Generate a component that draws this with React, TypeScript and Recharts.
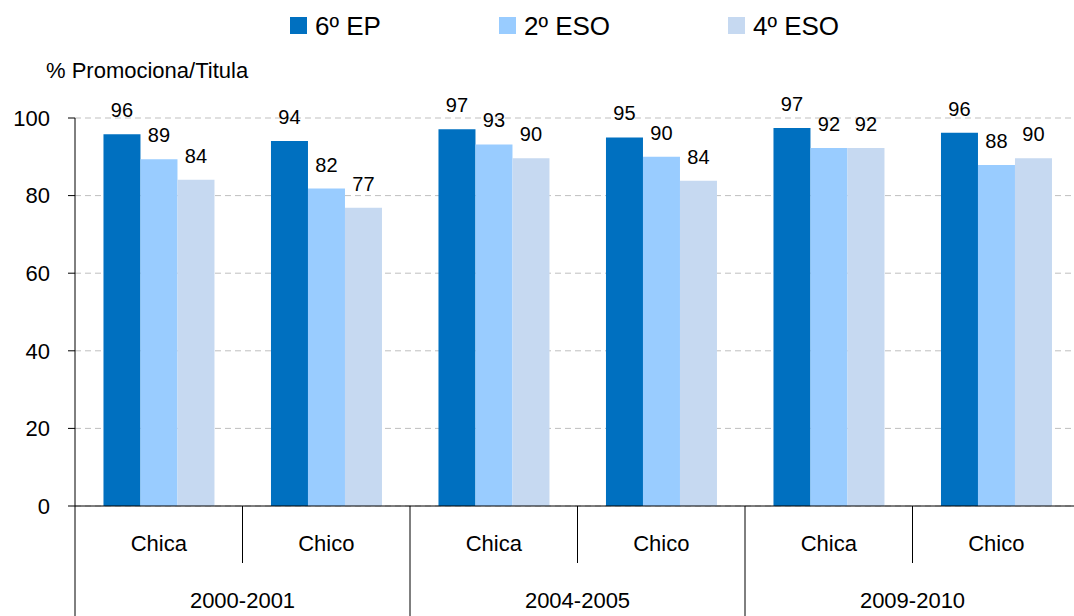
// Promoción / titulación por sexo y curso — grouped bars with two-level x axis
import { BarChart, Bar, XAxis, YAxis, CartesianGrid, LabelList } from 'recharts';

const categories = ['Chica', 'Chico', 'Chica', 'Chico', 'Chica', 'Chico'];
const years = ['2000-2001', '2004-2005', '2009-2010'];

const ep6 = [95.8, 94.1, 97.1, 95.0, 97.4, 96.2];
const eso2 = [89.4, 81.8, 93.2, 90.0, 92.3, 87.9];
const eso4 = [84.1, 76.9, 89.6, 83.8, 92.3, 89.6];

const yTicks = [0, 20, 40, 60, 80, 100];

const series = [
  { key: 'ep6', name: '6º EP', color: '#0070C0', legendX: 290 },
  { key: 'eso2', name: '2º ESO', color: '#99CCFF', legendX: 499 },
  { key: 'eso4', name: '4º ESO', color: '#C6D9F1', legendX: 728 },
];

const data = categories.map((sex, i) => ({
  sex,
  ep6: ep6[i],
  eso2: eso2[i],
  eso4: eso4[i],
}));

const WIDTH = 1074;
const HEIGHT = 616;
const Y_AXIS_W = 75;
const X_AXIS_H = 110;
const TOP = 118;
const RIGHT = -6; // plot area runs slightly past the right edge
const BAND = (WIDTH - Y_AXIS_W - RIGHT) / categories.length;
const FONT = '"Liberation Sans", Arial, sans-serif';

/** Two-level category tick: sex label, year label under each pair, separators */
function GroupTick(props: any) {
  const { x, y, payload, index } = props;
  const half = BAND / 2;
  const isStart = index % 2 === 0;
  return (
    <g>
      <line
        x1={x - half}
        x2={x - half}
        y1={y}
        y2={y + (isStart ? X_AXIS_H : 57)}
        stroke="#000"
        strokeWidth={1}
      />
      <text x={x} y={y + 45} textAnchor="middle" fontSize={22} fill="#000" fontFamily={FONT}>
        {payload.value}
      </text>
      {!isStart && (
        <text x={x - half} y={y + 102} textAnchor="middle" fontSize={22} fill="#000" fontFamily={FONT}>
          {years[(index - 1) / 2]}
        </text>
      )}
    </g>
  );
}

export default function App() {
  return (
    <div style={{ position: 'absolute', left: 0, top: 0, width: WIDTH, height: HEIGHT, background: '#fff', overflow: 'hidden' }}>
      <BarChart
        width={WIDTH}
        height={HEIGHT}
        data={data}
        margin={{ top: TOP, right: RIGHT, bottom: 0, left: 0 }}
        barCategoryGap="17%"
        barGap={0}
      >
        <CartesianGrid vertical={false} stroke="#BFBFBF" strokeDasharray="6 4" />
        <XAxis
          dataKey="sex"
          height={X_AXIS_H}
          interval={0}
          tickLine={false}
          tickSize={0}
          tickMargin={0}
          axisLine={{ stroke: '#000' }}
          tick={<GroupTick />}
        />
        <YAxis
          width={Y_AXIS_W}
          domain={[0, 100]}
          ticks={yTicks}
          interval={0}
          tickSize={7}
          tickMargin={18}
          axisLine={{ stroke: '#000' }}
          tickLine={{ stroke: '#000' }}
          tick={{ fill: '#000', fontSize: 22, fontFamily: FONT }}
        />
        {series.map((s) => (
          <Bar key={s.key} dataKey={s.key} name={s.name} fill={s.color} isAnimationActive={false}>
            <LabelList
              dataKey={s.key}
              position="top"
              offset={17}
              formatter={(v: any) => Math.round(Number(v))}
              style={{ fill: '#000', fontSize: 20, fontFamily: FONT }}
            />
          </Bar>
        ))}
      </BarChart>
      <svg
        width={WIDTH}
        height={TOP}
        style={{ position: 'absolute', left: 0, top: 0, pointerEvents: 'none' }}
      >
        {series.map((s) => (
          <g key={s.key}>
            <rect x={s.legendX} y={17} width={17} height={17} fill={s.color} />
            <text x={s.legendX + 25} y={35} fontSize={26} fill="#000" fontFamily={FONT}>
              {s.name}
            </text>
          </g>
        ))}
        <text x={46} y={78} fontSize={22} fill="#000" fontFamily={FONT}>
          % Promociona/Titula
        </text>
      </svg>
    </div>
  );
}
